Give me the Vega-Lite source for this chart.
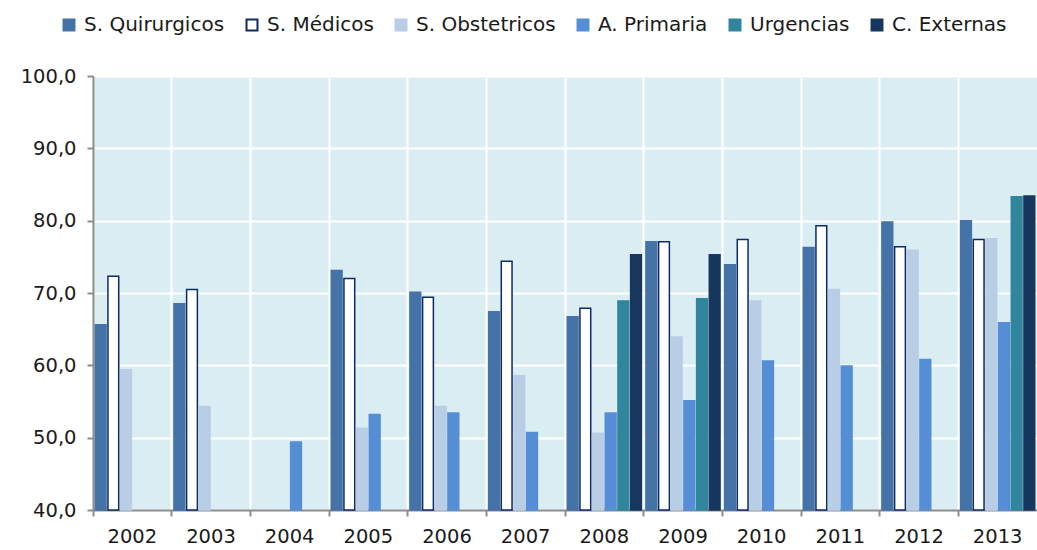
{
  "$schema": "https://vega.github.io/schema/vega-lite/v6.json",
  "autosize": "none",
  "width": 944,
  "height": 434,
  "padding": {"left": 93, "top": 76, "right": 0, "bottom": 40},
  "background": "white",
  "config": {
    "locale": {"number": {"decimal": ",", "thousands": ".", "grouping": [3], "currency": ["", " €"]}},
    "view": {"fill": "#DAEDF3", "stroke": null},
    "font": "DejaVu Sans"
  },
  "data": {
    "values": [
      {"year": "2002", "serie": "S. Quirurgicos", "value": 65.6},
      {"year": "2002", "serie": "S. Médicos", "value": 72.3},
      {"year": "2002", "serie": "S. Obstetricos", "value": 59.4},
      {"year": "2003", "serie": "S. Quirurgicos", "value": 68.5},
      {"year": "2003", "serie": "S. Médicos", "value": 70.5},
      {"year": "2003", "serie": "S. Obstetricos", "value": 54.3},
      {"year": "2004", "serie": "A. Primaria", "value": 49.4},
      {"year": "2005", "serie": "S. Quirurgicos", "value": 73.1},
      {"year": "2005", "serie": "S. Médicos", "value": 72.0},
      {"year": "2005", "serie": "S. Obstetricos", "value": 51.3},
      {"year": "2005", "serie": "A. Primaria", "value": 53.2},
      {"year": "2006", "serie": "S. Quirurgicos", "value": 70.1},
      {"year": "2006", "serie": "S. Médicos", "value": 69.4},
      {"year": "2006", "serie": "S. Obstetricos", "value": 54.3},
      {"year": "2006", "serie": "A. Primaria", "value": 53.4},
      {"year": "2007", "serie": "S. Quirurgicos", "value": 67.4},
      {"year": "2007", "serie": "S. Médicos", "value": 74.4},
      {"year": "2007", "serie": "S. Obstetricos", "value": 58.6},
      {"year": "2007", "serie": "A. Primaria", "value": 50.7},
      {"year": "2008", "serie": "S. Quirurgicos", "value": 66.7},
      {"year": "2008", "serie": "S. Médicos", "value": 67.9},
      {"year": "2008", "serie": "S. Obstetricos", "value": 50.6},
      {"year": "2008", "serie": "A. Primaria", "value": 53.4},
      {"year": "2008", "serie": "Urgencias", "value": 68.9},
      {"year": "2008", "serie": "C. Externas", "value": 75.3},
      {"year": "2009", "serie": "S. Quirurgicos", "value": 77.1},
      {"year": "2009", "serie": "S. Médicos", "value": 77.1},
      {"year": "2009", "serie": "S. Obstetricos", "value": 63.9},
      {"year": "2009", "serie": "A. Primaria", "value": 55.1},
      {"year": "2009", "serie": "Urgencias", "value": 69.2},
      {"year": "2009", "serie": "C. Externas", "value": 75.3},
      {"year": "2010", "serie": "S. Quirurgicos", "value": 73.9},
      {"year": "2010", "serie": "S. Médicos", "value": 77.4},
      {"year": "2010", "serie": "S. Obstetricos", "value": 68.9},
      {"year": "2010", "serie": "A. Primaria", "value": 60.6},
      {"year": "2011", "serie": "S. Quirurgicos", "value": 76.3},
      {"year": "2011", "serie": "S. Médicos", "value": 79.3},
      {"year": "2011", "serie": "S. Obstetricos", "value": 70.5},
      {"year": "2011", "serie": "A. Primaria", "value": 59.9},
      {"year": "2012", "serie": "S. Quirurgicos", "value": 79.8},
      {"year": "2012", "serie": "S. Médicos", "value": 76.4},
      {"year": "2012", "serie": "S. Obstetricos", "value": 75.9},
      {"year": "2012", "serie": "A. Primaria", "value": 60.8},
      {"year": "2013", "serie": "S. Quirurgicos", "value": 80.0},
      {"year": "2013", "serie": "S. Médicos", "value": 77.4},
      {"year": "2013", "serie": "S. Obstetricos", "value": 77.5},
      {"year": "2013", "serie": "A. Primaria", "value": 65.9},
      {"year": "2013", "serie": "Urgencias", "value": 83.3},
      {"year": "2013", "serie": "C. Externas", "value": 83.4}
    ]
  },
  "mark": {"type": "bar", "strokeWidth": 1.5},
  "encoding": {
    "x": {
      "field": "year", "type": "nominal",
      "scale": {"paddingInner": 0, "paddingOuter": 0},
      "axis": {
        "title": null, "labelAngle": 0, "bandPosition": 0,
        "grid": true, "gridColor": "white", "gridWidth": 2, "gridOpacity": 1,
        "domainColor": "#8c8c8c", "domainWidth": 2,
        "tickColor": "#8c8c8c", "tickWidth": 2, "tickSize": 6,
        "labelFontSize": 19.5, "labelColor": "#1a1a1a", "labelPadding": 11,
        "labelFlush": false
      }
    },
    "xOffset": {
      "field": "serie", "type": "nominal",
      "sort": ["S. Quirurgicos", "S. Médicos", "S. Obstetricos", "A. Primaria", "Urgencias", "C. Externas"],
      "scale": {"paddingInner": 0.15, "paddingOuter": 0.18}
    },
    "y": {
      "field": "value", "type": "quantitative",
      "scale": {"domain": [40, 100], "zero": false, "nice": false},
      "axis": {
        "title": null, "values": [40, 50, 60, 70, 80, 90, 100], "format": ".1f",
        "grid": true, "gridColor": "white", "gridWidth": 2, "gridOpacity": 1,
        "domainColor": "#8c8c8c", "domainWidth": 2,
        "tickColor": "#8c8c8c", "tickWidth": 2, "tickSize": 6,
        "labelFontSize": 19.5, "labelColor": "#1a1a1a", "labelPadding": 11
      }
    },
    "y2": {"datum": 40},
    "fill": {
      "field": "serie", "type": "nominal",
      "scale": {
        "domain": ["S. Quirurgicos", "S. Médicos", "S. Obstetricos", "A. Primaria", "Urgencias", "C. Externas"],
        "range": ["#4573A7", "#FFFFFF", "#B9CDE5", "#558ED5", "#31859C", "#17375E"]
      },
      "legend": {
        "title": null, "orient": "none", "direction": "horizontal", "columns": 6,
        "legendX": -34, "legendY": -61,
        "symbolType": "square", "symbolSize": 120, "symbolStrokeWidth": 2,
        "labelFontSize": 20, "labelColor": "#1a1a1a", "labelOffset": 5,
        "columnPadding": 17
      }
    },
    "stroke": {
      "field": "serie", "type": "nominal",
      "scale": {
        "domain": ["S. Quirurgicos", "S. Médicos", "S. Obstetricos", "A. Primaria", "Urgencias", "C. Externas"],
        "range": ["#4573A7", "#0E2A66", "#B9CDE5", "#558ED5", "#31859C", "#17375E"]
      },
      "legend": null
    }
  }
}
